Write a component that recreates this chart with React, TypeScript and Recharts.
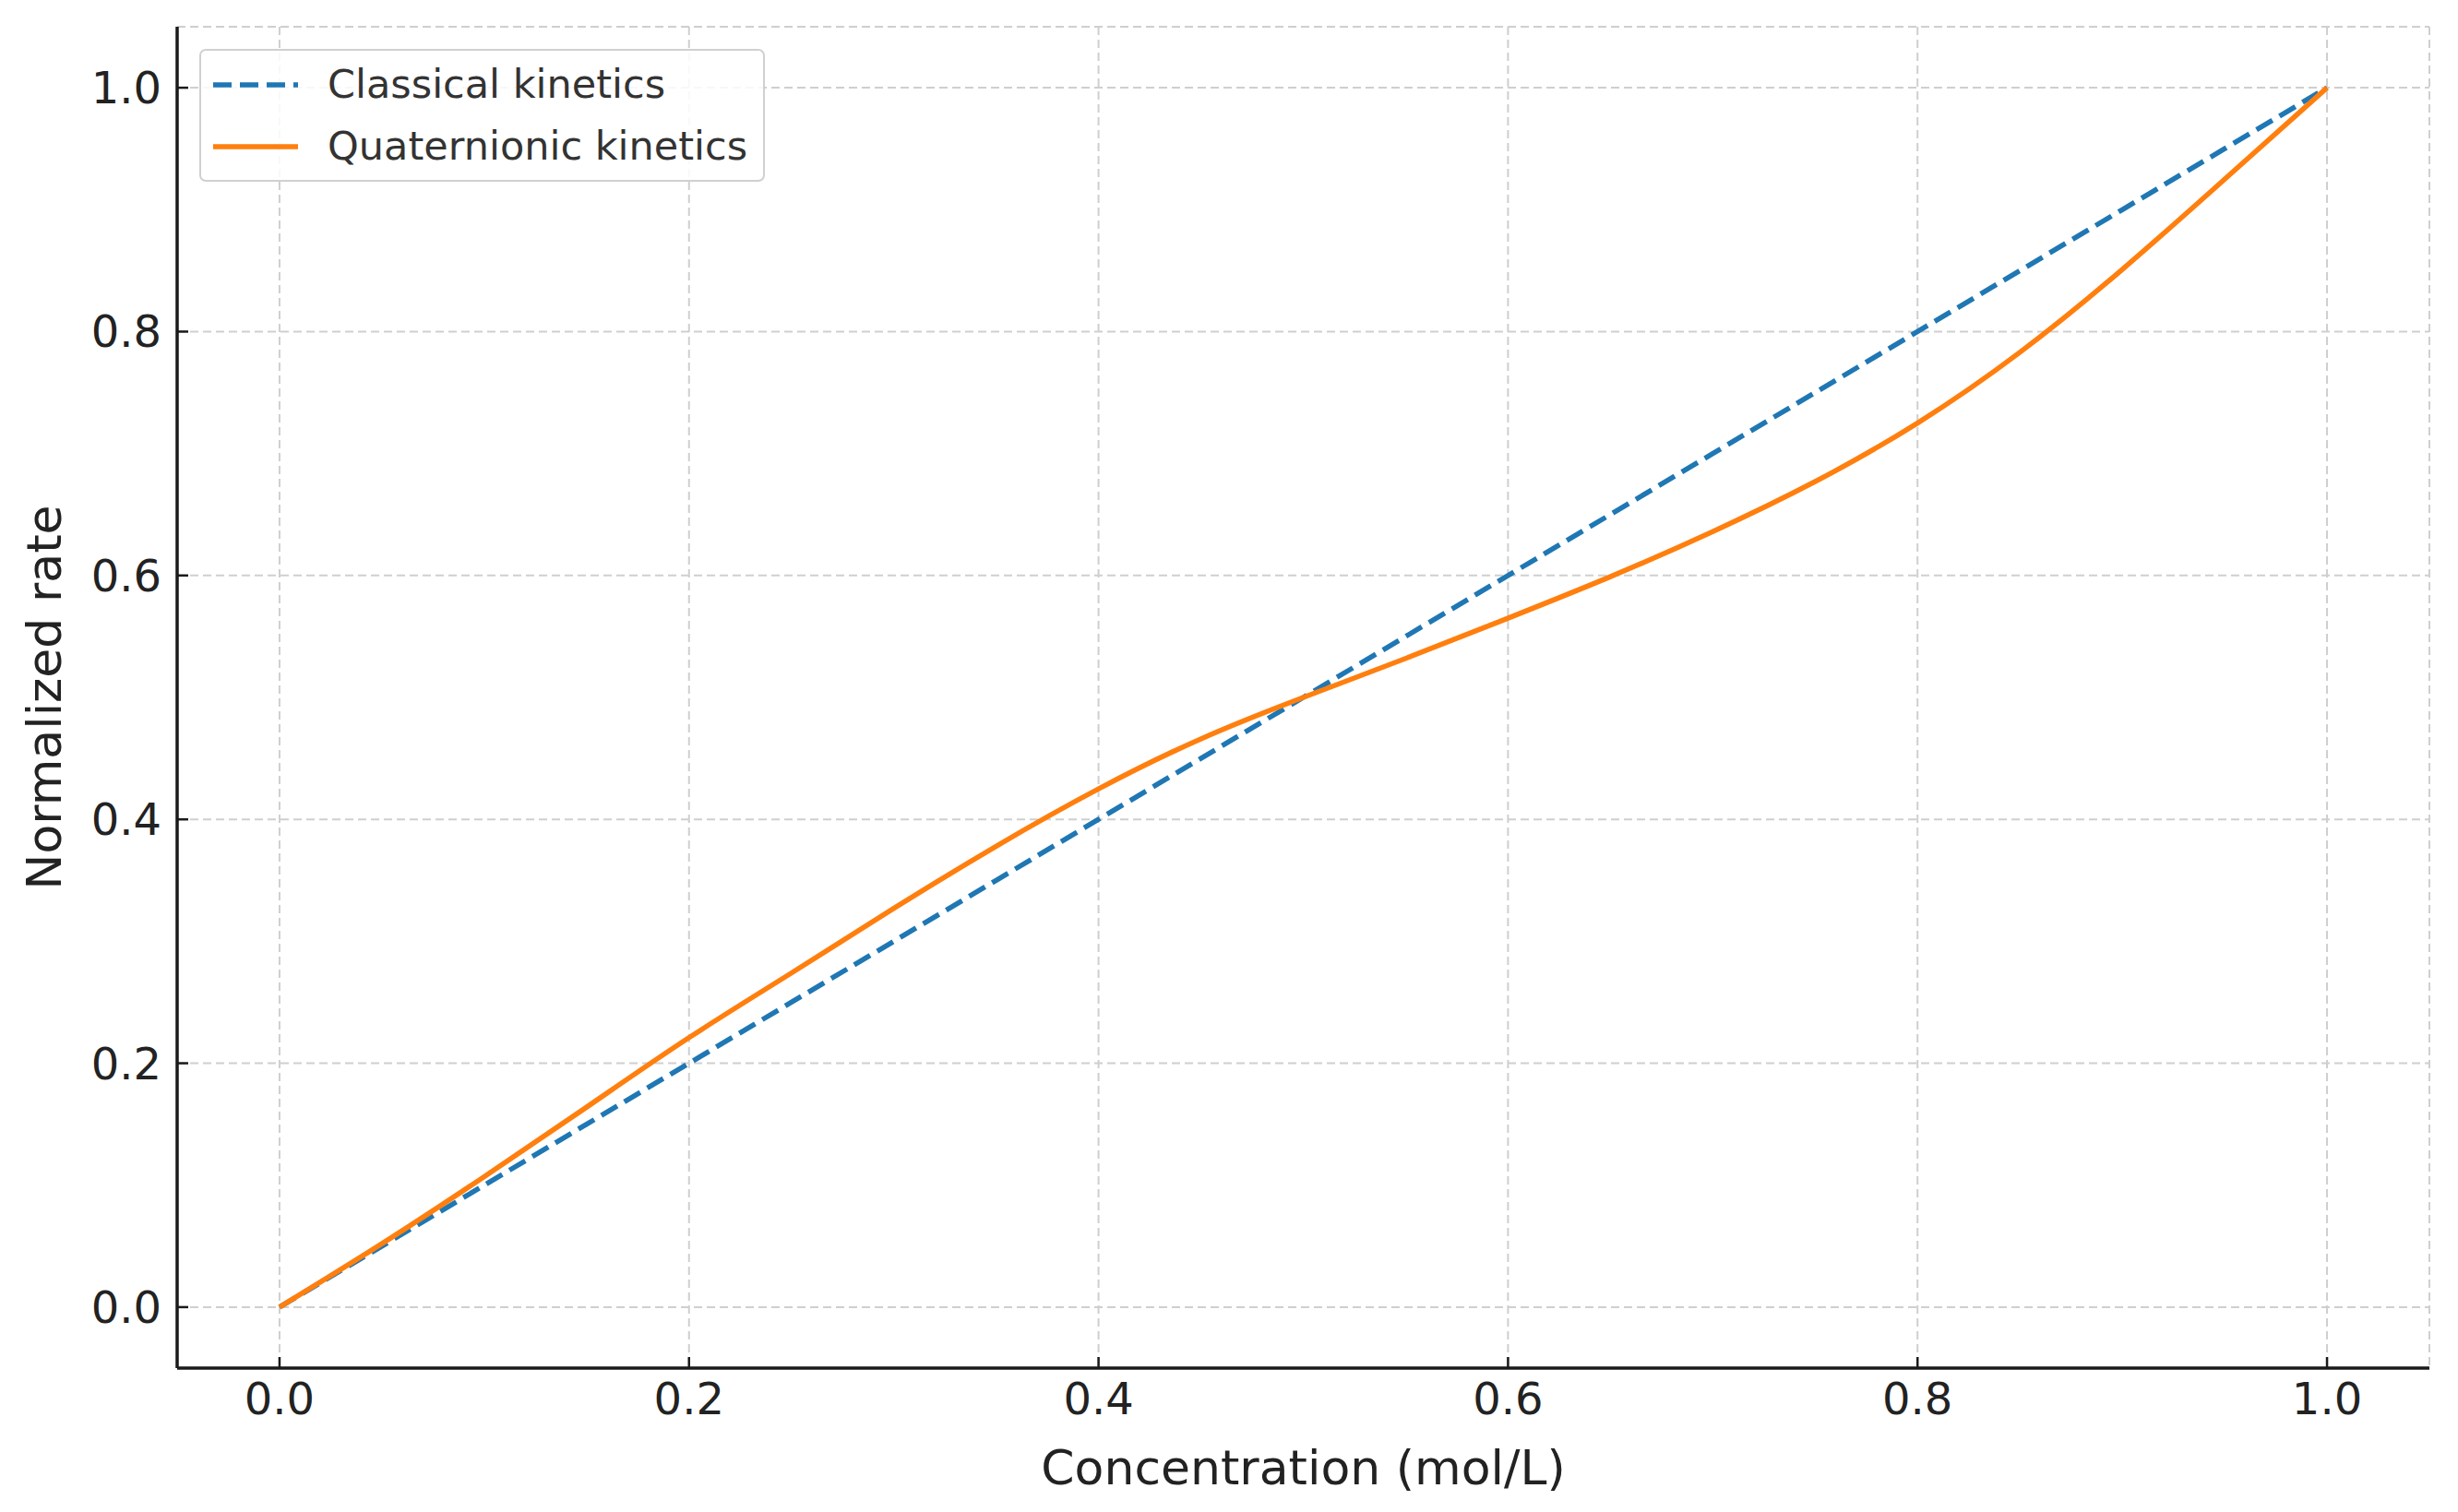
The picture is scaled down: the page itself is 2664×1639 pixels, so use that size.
import { LineChart, Line, XAxis, YAxis, CartesianGrid, Legend, Label } from 'recharts';

// concentration (mol/L) sampled every 0.05
const concentration = [0, 0.05, 0.1, 0.15, 0.2, 0.25, 0.3, 0.35, 0.4, 0.45, 0.5, 0.55, 0.6, 0.65, 0.7, 0.75, 0.8, 0.85, 0.9, 0.95, 1.0];
const classicalRate = [0, 0.05, 0.1, 0.15, 0.2, 0.25, 0.3, 0.35, 0.4, 0.45, 0.5, 0.55, 0.6, 0.65, 0.7, 0.75, 0.8, 0.85, 0.9, 0.95, 1.0];
const quaternionicRate = [0, 0.052, 0.107, 0.164, 0.221, 0.274, 0.327, 0.378, 0.425, 0.466, 0.5, 0.532, 0.565, 0.599, 0.636, 0.677, 0.725, 0.783, 0.851, 0.925, 1.0];

const xTicks = [0, 0.2, 0.4, 0.6, 0.8, 1.0];
const yTicks = [0, 0.2, 0.4, 0.6, 0.8, 1.0];

const data = concentration.map((c, i) => ({
  c,
  classical: classicalRate[i],
  quaternionic: quaternionicRate[i],
}));

const FONT = '"DejaVu Sans", sans-serif';
const AXIS_COLOR = '#1a1a1a';

const renderLegend = (props: any) => {
  const { payload } = props;
  return (
    <div
      style={{
        border: '2px solid #d0d0d0',
        borderRadius: 7,
        background: 'rgba(255,255,255,0.85)',
        padding: '3px 17px 3px 13px',
        fontFamily: FONT,
      }}
    >
      {payload.map((entry: any) => (
        <div key={entry.value} style={{ display: 'flex', alignItems: 'center', height: 67 }}>
          <svg width={92} height={20}>
            <line
              x1={0}
              y1={10}
              x2={92}
              y2={10}
              stroke={entry.color}
              strokeWidth={5.5}
              strokeDasharray={entry.payload?.strokeDasharray}
            />
          </svg>
          <span style={{ marginLeft: 32, fontSize: 43, color: '#333', lineHeight: 1 }}>{entry.value}</span>
        </div>
      ))}
    </div>
  );
};

export default function App() {
  return (
    <LineChart
      width={2648}
      height={1623}
      data={data}
      margin={{ top: 21, right: 23, bottom: 0, left: 0 }}
      style={{ fontFamily: FONT }}
    >
      <CartesianGrid strokeDasharray="9 5" stroke="#cfcfcf" strokeWidth={2} />
      <XAxis
        type="number"
        dataKey="c"
        domain={[-0.05, 1.05]}
        ticks={xTicks}
        tickFormatter={(v: number) => v.toFixed(1)}
        allowDataOverflow
        height={148}
        tickSize={-12}
        tickMargin={28}
        axisLine={{ stroke: AXIS_COLOR, strokeWidth: 3.5 }}
        tickLine={{ stroke: AXIS_COLOR, strokeWidth: 2.5 }}
        tick={{ fontSize: 48, fill: '#222' }}
      >
        <Label value="Concentration (mol/L)" position="insideBottom" offset={22} style={{ fontSize: 52, fill: '#222' }} />
      </XAxis>
      <YAxis
        type="number"
        domain={[-0.05, 1.05]}
        ticks={yTicks}
        tickFormatter={(v: number) => v.toFixed(1)}
        allowDataOverflow
        width={184}
        tickSize={-12}
        tickMargin={29}
        axisLine={{ stroke: AXIS_COLOR, strokeWidth: 3.5 }}
        tickLine={{ stroke: AXIS_COLOR, strokeWidth: 2.5 }}
        tick={{ fontSize: 48, fill: '#222' }}
      >
        <Label
          value="Normalized rate"
          position="insideLeft"
          angle={-90}
          offset={40}
          style={{ fontSize: 52, fill: '#222', textAnchor: 'middle' }}
        />
      </YAxis>
      <Legend
        content={renderLegend}
        layout="horizontal"
        verticalAlign="middle"
        align="center"
        wrapperStyle={{ left: 208, top: 45, width: 'auto' }}
      />
      <Line
        type="linear"
        dataKey="classical"
        name="Classical kinetics"
        stroke="#1f77b4"
        strokeWidth={5.5}
        strokeDasharray="20 9"
        dot={false}
        activeDot={false}
        isAnimationActive={false}
      />
      <Line
        type="natural"
        dataKey="quaternionic"
        name="Quaternionic kinetics"
        stroke="#ff7f0e"
        strokeWidth={5.5}
        dot={false}
        activeDot={false}
        isAnimationActive={false}
      />
    </LineChart>
  );
}
